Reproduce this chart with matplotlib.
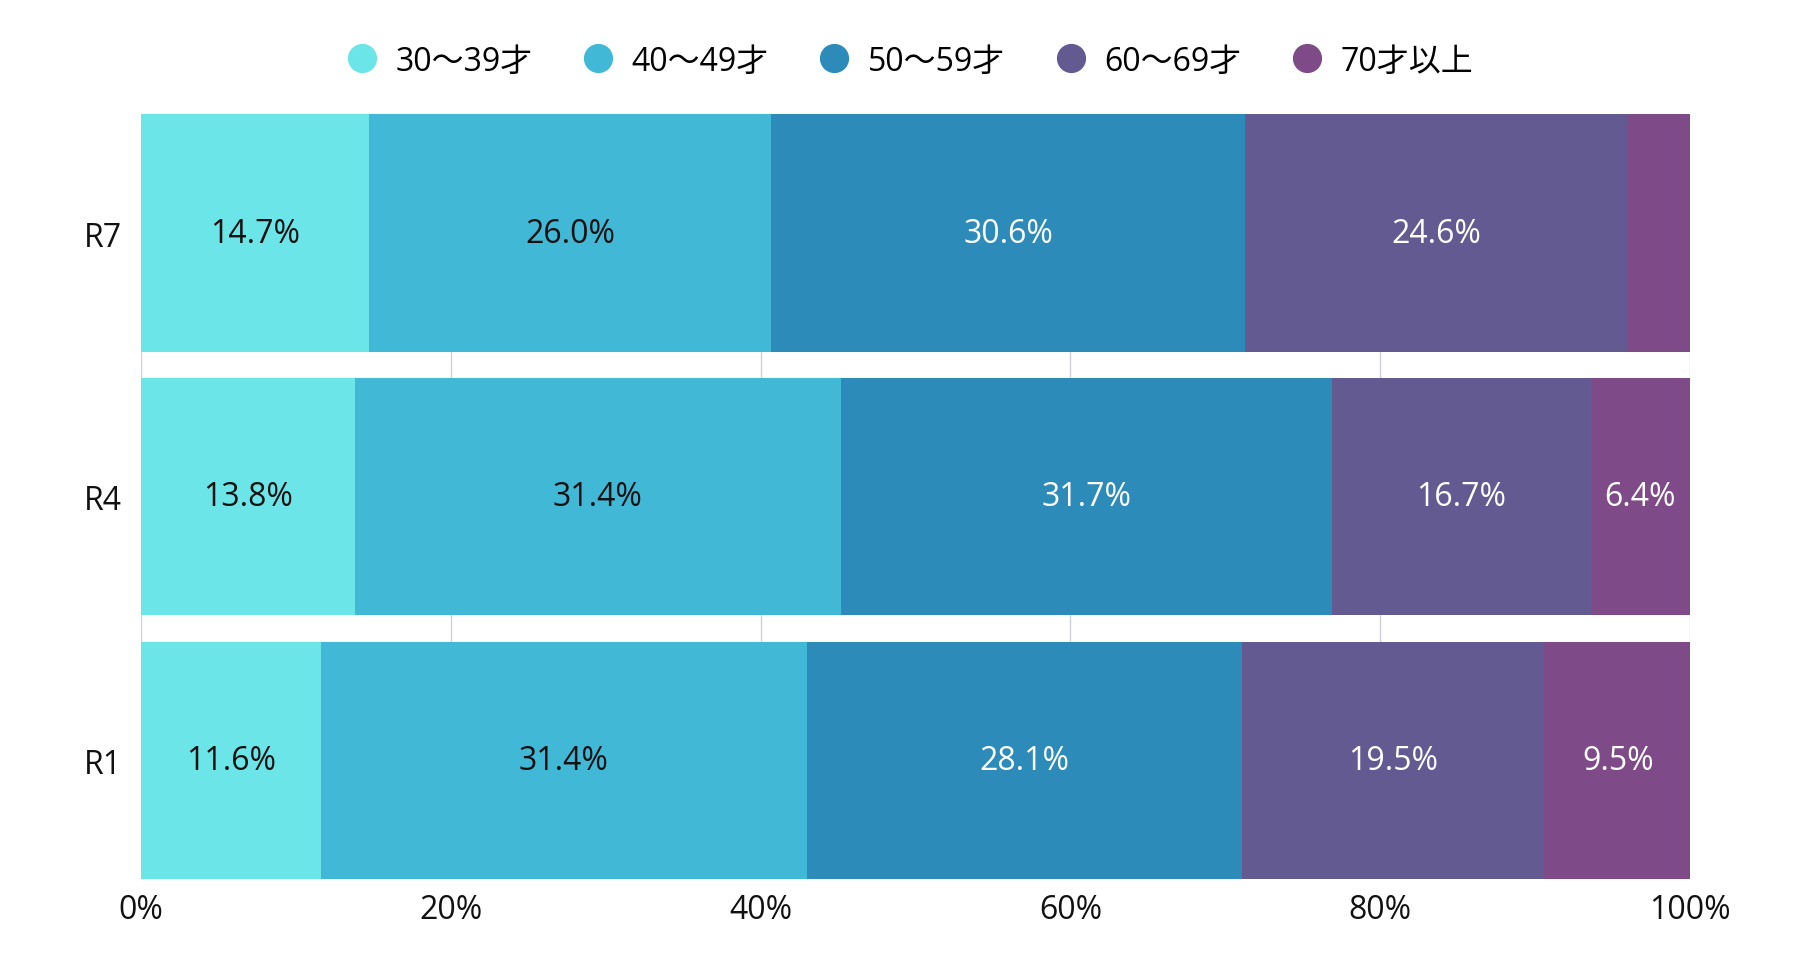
import matplotlib
matplotlib.use("Agg")
import matplotlib.pyplot as plt
from matplotlib.lines import Line2D
import numpy as np

plt.rcParams["font.family"] = ["Open Sans", "Noto Sans CJK JP", "DejaVu Sans"]

years = ["R1", "R4", "R7"]
groups = ["30〜39才", "40〜49才", "50〜59才", "60〜69才", "70才以上"]
colors = ["#6ce5e8", "#41b8d5", "#2d8bba", "#635a92", "#7f4a88"]
text_colors = ["#111111", "#111111", "white", "white", "white"]

share_30s = [11.6, 13.8, 14.7]
share_40s = [31.4, 31.4, 26.0]
share_50s = [28.1, 31.7, 30.6]
share_60s = [19.5, 16.7, 24.6]
share_70p = [9.5, 6.4, 4.1]
series = [share_30s, share_40s, share_50s, share_60s, share_70p]

fig = plt.figure(figsize=(17.96, 9.70), dpi=100)
ax = fig.add_axes([0.0785, 0.093, 0.8625, 0.788])

y = np.arange(len(years))
left = np.zeros(len(years))
for vals, col, tcol in zip(series, colors, text_colors):
    vals = np.array(vals)
    ax.barh(y, vals, left=left, height=0.9, color=col, edgecolor="none", zorder=2)
    for yi, v, l in zip(y, vals, left):
        if v >= 5:
            ax.text(l + v / 2, yi, f"{v:.1f}%", ha="center", va="center",
                    fontsize=23, color=tcol, zorder=3)
    left += vals

ax.set_xlim(0, 100)
ax.set_ylim(-0.45, 2.45)
ax.set_yticks(y)
ax.set_yticklabels(years)
ax.set_xticks([0, 20, 40, 60, 80, 100])
ax.set_xticklabels([f"{t}%" for t in [0, 20, 40, 60, 80, 100]])
ax.tick_params(axis="both", length=0, labelsize=23, colors="#111111")
ax.tick_params(axis="x", pad=10)
ax.tick_params(axis="y", pad=14)
ax.grid(axis="x", color="#d0d0d8", linewidth=1, zorder=0)
for s in ax.spines.values():
    s.set_visible(False)

handles = [Line2D([0], [0], marker="o", linestyle="none", markersize=20,
                  markerfacecolor=c, markeredgecolor=c) for c in colors]
fig.legend(handles, groups, loc="center", bbox_to_anchor=(0.502, 0.936), ncol=5,
           frameon=False, fontsize=23, handletextpad=0.05, columnspacing=1.05)

fig.savefig("out.png", facecolor="white")
